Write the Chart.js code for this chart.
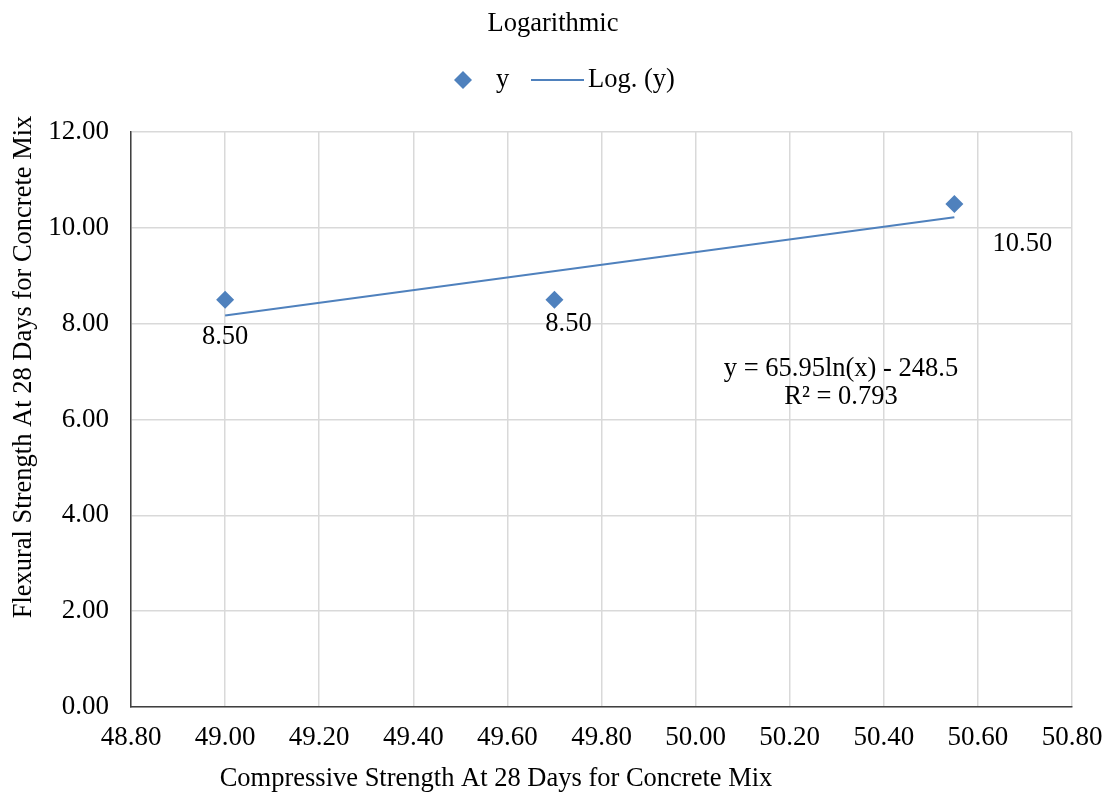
<!DOCTYPE html>
<html><head><meta charset="utf-8">
<script src="https://cdn.jsdelivr.net/npm/chart.js@4.4.0/dist/chart.umd.min.js"></script>
<style>html,body{margin:0;padding:0;background:#fff}#wrap{width:1105px;height:796px;position:relative}</style>
</head><body><div id="wrap"><canvas id="c" width="1105" height="796"></canvas></div>
<script>
// Data
const xValues = [49.00, 49.70, 50.55];
const yValues = [8.50, 8.50, 10.50];
const dataLabels = ['8.50', '8.50', '10.50'];
const trendX = [49.00, 50.55];
const trendY = [8.17, 10.22];
const chartTitle = 'Logarithmic';
const seriesName = 'y';
const trendName = 'Log. (y)';
const xTitle = 'Compressive Strength At 28 Days for Concrete Mix';
const yTitle = 'Flexural Strength At 28 Days for Concrete Mix';
const equationLines = ['y = 65.95ln(x) - 248.5', 'R\u00B2 = 0.793'];

const FONT = '"Liberation Serif", "Times New Roman", serif';
const BLUE = '#4f81bd';

const pts = xValues.map((x, i) => ({x, y: yValues[i]}));
const trend = trendX.map((x, i) => ({x, y: trendY[i]}));

const labelOffsets = [[0, 37], [14, 24], [68, 40]];

const decor = {
  id: 'decor',
  afterDatasetsDraw(chart) {
    const ctx = chart.ctx;
    ctx.save();
    ctx.fillStyle = '#000';
    ctx.font = '26.5px ' + FONT;
    ctx.textAlign = 'center';
    ctx.textBaseline = 'middle';
    // data labels
    const meta = chart.getDatasetMeta(0);
    meta.data.forEach((el, i) => {
      ctx.fillText(dataLabels[i], el.x + labelOffsets[i][0], el.y + labelOffsets[i][1]);
    });
    // equation
    ctx.fillText(equationLines[0], 841, 369);
    ctx.fillText(equationLines[1], 841, 397);
    // title
    ctx.fillText(chartTitle, 553, 24);
    // legend
    ctx.textAlign = 'left';
    ctx.fillText(seriesName, 496, 80);
    ctx.fillText(trendName, 588, 80);
    ctx.fillStyle = BLUE;
    ctx.beginPath();
    ctx.moveTo(463, 71); ctx.lineTo(472, 80); ctx.lineTo(463, 89); ctx.lineTo(454, 80); ctx.closePath();
    ctx.fill();
    ctx.strokeStyle = BLUE; ctx.lineWidth = 2;
    ctx.beginPath(); ctx.moveTo(531, 80); ctx.lineTo(584, 80); ctx.stroke();
    // axis titles
    ctx.fillStyle = '#000';
    ctx.textAlign = 'center';
    ctx.fillText(xTitle, 496, 779);
    ctx.translate(24, 367);
    ctx.rotate(-Math.PI / 2);
    ctx.fillText(yTitle, 0, 0);
    ctx.restore();
  }
};

new Chart(document.getElementById('c'), {
  type: 'scatter',
  data: {
    datasets: [
      {label: seriesName, data: pts, pointStyle: 'rectRot', pointRadius: 9, pointHoverRadius: 9,
       backgroundColor: BLUE, borderColor: BLUE, borderWidth: 0, order: 1},
      {label: trendName, type: 'line', data: trend, showLine: true, borderColor: BLUE, borderWidth: 2,
       pointRadius: 0, fill: false, order: 2}
    ]
  },
  options: {
    responsive: false,
    animation: false,
    events: [],
    layout: {padding: {top: 132, right: 33, left: 0, bottom: 0}},
    plugins: {legend: {display: false}, title: {display: false}, tooltip: {enabled: false}},
    scales: {
      x: {
        type: 'linear', min: 48.8, max: 50.8,
        ticks: {stepSize: 0.2, padding: 15, color: '#000', font: {family: FONT, size: 27},
                callback: v => v.toFixed(2), maxRotation: 0, autoSkip: false},
        grid: {color: '#d9d9d9', lineWidth: 1.5, drawTicks: false},
        border: {color: '#404040', width: 1.5},
        afterFit: s => { s.height = 89; s.paddingRight = 0; s.paddingLeft = 0; }
      },
      y: {
        type: 'linear', min: 0, max: 12,
        ticks: {stepSize: 2, padding: 22, color: '#000', font: {family: FONT, size: 27},
                callback: v => v.toFixed(2)},
        grid: {color: '#d9d9d9', lineWidth: 1.5, drawTicks: false},
        border: {color: '#404040', width: 1.5},
        afterFit: s => { s.width = 131; s.paddingTop = 0; s.paddingBottom = 0; }
      }
    }
  },
  plugins: [decor]
});
</script></body></html>
